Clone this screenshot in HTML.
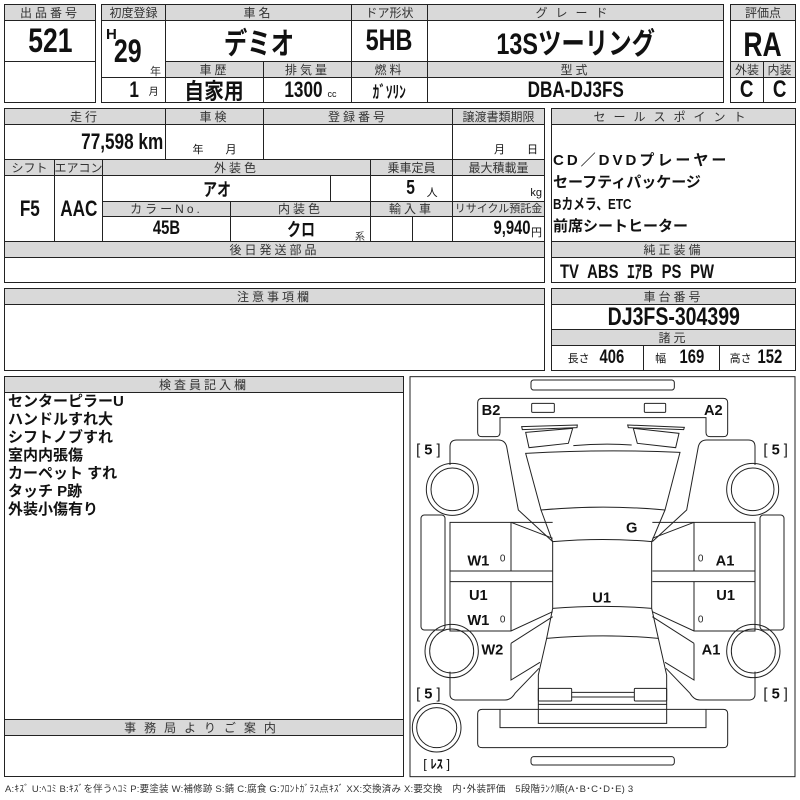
<!DOCTYPE html>
<html><head><meta charset="utf-8">
<style>
*{margin:0;padding:0;box-sizing:border-box}
body{width:800px;height:800px;background:#fff;position:relative;overflow:hidden;font-family:"Liberation Sans","Noto Sans CJK JP",sans-serif;color:#111}
.c{position:absolute;border:1px solid #222;display:flex;align-items:center;justify-content:center;white-space:nowrap;background:#fff}
.h{background:#d9d9d9;font-size:12px;letter-spacing:3px;color:#333;line-height:1}
.b{font-weight:bold}
.n{display:inline-block;transform:scaleX(0.78);font-weight:bold}
.s{font-size:10px;position:absolute;color:#333}
</style></head><body>

<!-- Block 1 -->
<div class="c h" style="left:4px;top:4px;width:92px;height:17px">出品番号</div>
<div class="c" style="left:4px;top:20px;width:92px;height:42px;font-size:34px"><span class="n">521</span></div>
<div class="c" style="left:4px;top:61px;width:92px;height:42px"></div>

<div class="c h" style="left:101px;top:4px;width:65px;height:17px;letter-spacing:0">初度登録</div>
<div class="c" style="left:101px;top:20px;width:65px;height:58px"></div>
<div style="position:absolute;left:106px;top:26px;font-size:15px;font-weight:bold">H</div>
<div style="position:absolute;left:110px;top:33px;font-size:32px"><span class="n">29</span></div>
<div class="s" style="left:150px;top:63px;font-size:11px">年</div>
<div class="c" style="left:101px;top:77px;width:65px;height:26px;font-size:22px"><span class="n" style="margin-left:20px">1</span><span style="font-size:10px;margin-left:8px">月</span></div>

<div class="c h" style="left:165px;top:4px;width:187px;height:17px">車名</div>
<div class="c" style="left:165px;top:20px;width:187px;height:42px;font-size:30px"><span class="n">デミオ</span></div>
<div class="c h" style="left:351px;top:4px;width:77px;height:17px;letter-spacing:0">ドア形状</div>
<div class="c" style="left:351px;top:20px;width:77px;height:42px;font-size:30px"><span class="n">5HB</span></div>
<div class="c h" style="left:427px;top:4px;width:297px;height:17px;letter-spacing:8px">グレード</div>
<div class="c" style="left:427px;top:20px;width:297px;height:42px;font-size:30px"><span class="n">13Sツーリング</span></div>

<div class="c h" style="left:165px;top:61px;width:99px;height:17px">車歴</div>
<div class="c" style="left:165px;top:77px;width:99px;height:26px;font-size:22px"><span class="n" style="transform:scaleX(0.9)">自家用</span></div>
<div class="c h" style="left:263px;top:61px;width:89px;height:17px">排気量</div>
<div class="c" style="left:263px;top:77px;width:89px;height:26px;font-size:22px"><span class="n">1300</span><span style="font-size:9px;margin-top:8px">cc</span></div>
<div class="c h" style="left:351px;top:61px;width:77px;height:17px">燃料</div>
<div class="c" style="left:351px;top:77px;width:77px;height:26px;font-size:17px"><span class="n">ｶﾞｿﾘﾝ</span></div>
<div class="c h" style="left:427px;top:61px;width:297px;height:17px">型式</div>
<div class="c" style="left:427px;top:77px;width:297px;height:26px;font-size:22px"><span class="n">DBA-DJ3FS</span></div>

<div class="c h" style="left:730px;top:4px;width:66px;height:17px;letter-spacing:0">評価点</div>
<div class="c" style="left:730px;top:20px;width:66px;height:42px;font-size:34px;padding-top:8px"><span class="n">RA</span></div>
<div class="c h" style="left:730px;top:61px;width:34px;height:17px;letter-spacing:0">外装</div>
<div class="c h" style="left:763px;top:61px;width:33px;height:17px;letter-spacing:0">内装</div>
<div class="c" style="left:730px;top:77px;width:34px;height:26px;font-size:24px"><span class="n">C</span></div>
<div class="c" style="left:763px;top:77px;width:33px;height:26px;font-size:24px"><span class="n">C</span></div>

<!-- Block 2 -->
<div class="c h" style="left:4px;top:108px;width:162px;height:17px">走行</div>
<div class="c" style="left:4px;top:124px;width:162px;height:36px;font-size:22px;justify-content:flex-end;padding-right:2px"><span class="n" style="transform-origin:right">77,598 km</span></div>
<div class="c h" style="left:165px;top:108px;width:99px;height:17px">車検</div>
<div class="c" style="left:165px;top:124px;width:99px;height:36px;font-size:11px;align-items:flex-end;padding-bottom:2px">年　　月</div>
<div class="c h" style="left:263px;top:108px;width:190px;height:17px">登録番号</div>
<div class="c" style="left:263px;top:124px;width:190px;height:36px"></div>
<div class="c h" style="left:452px;top:108px;width:93px;height:17px;letter-spacing:0">譲渡書類期限</div>
<div class="c" style="left:452px;top:124px;width:93px;height:36px;font-size:11px;align-items:flex-end;padding-bottom:2px;justify-content:flex-end;padding-right:6px">月　　日</div>

<div class="c h" style="left:4px;top:159px;width:51px;height:17px;letter-spacing:0">シフト</div>
<div class="c h" style="left:54px;top:159px;width:49px;height:17px;letter-spacing:0">エアコン</div>
<div class="c" style="left:4px;top:175px;width:51px;height:67px;font-size:22px"><span class="n">F5</span></div>
<div class="c" style="left:54px;top:175px;width:49px;height:67px;font-size:22px"><span class="n">AAC</span></div>
<div class="c h" style="left:102px;top:159px;width:269px;height:17px">外装色</div>
<div class="c" style="left:102px;top:175px;width:229px;height:27px;font-size:18px"><span class="n">アオ</span></div>
<div class="c" style="left:330px;top:175px;width:41px;height:27px"></div>
<div class="c h" style="left:370px;top:159px;width:83px;height:17px;letter-spacing:0">乗車定員</div>
<div class="c" style="left:370px;top:175px;width:83px;height:27px;font-size:20px"><span class="n" style="margin-left:20px">5</span><span style="font-size:11px;margin-left:10px;margin-top:6px">人</span></div>
<div class="c h" style="left:452px;top:159px;width:93px;height:17px;letter-spacing:0">最大積載量</div>
<div class="c" style="left:452px;top:175px;width:93px;height:27px;font-size:11px;justify-content:flex-end;align-items:flex-end;padding:0 2px 2px 0">kg</div>

<div class="c h" style="left:102px;top:201px;width:129px;height:16px">カラーNo.</div>
<div class="c" style="left:102px;top:216px;width:129px;height:26px;font-size:19px"><span class="n">45B</span></div>
<div class="c h" style="left:230px;top:201px;width:141px;height:16px">内装色</div>
<div class="c" style="left:230px;top:216px;width:141px;height:26px;font-size:18px"><span class="n">クロ</span></div>
<div class="s" style="left:355px;top:228px">系</div>
<div class="c h" style="left:370px;top:201px;width:83px;height:16px">輸入車</div>
<div class="c" style="left:370px;top:216px;width:43px;height:26px"></div>
<div class="c" style="left:412px;top:216px;width:41px;height:26px"></div>
<div class="c h" style="left:452px;top:201px;width:93px;height:16px;letter-spacing:0;font-size:11px">リサイクル預託金</div>
<div class="c" style="left:452px;top:216px;width:93px;height:26px;font-size:19px;justify-content:flex-end;padding-right:2px"><span class="n" style="transform-origin:right">9,940</span><span style="font-size:11px;margin-top:6px">円</span></div>

<div class="c h" style="left:4px;top:241px;width:541px;height:17px">後日発送部品</div>
<div class="c" style="left:4px;top:257px;width:541px;height:26px"></div>

<div class="c h" style="left:551px;top:108px;width:245px;height:17px;letter-spacing:8px">セールスポイント</div>
<div class="c" style="left:551px;top:124px;width:245px;height:118px"></div>
<div style="position:absolute;left:553px;top:150px;font-size:15px;font-weight:bold;line-height:22px">
<div style="letter-spacing:3px">CD／DVDプレーヤー</div><div>セーフティパッケージ</div><div><span class="n" style="transform-origin:left">Bカメラ、ETC</span></div><div>前席シートヒーター</div></div>
<div class="c h" style="left:551px;top:241px;width:245px;height:17px">純正装備</div>
<div class="c" style="left:551px;top:257px;width:245px;height:26px;font-size:19px;justify-content:flex-start;padding-left:8px"><span class="n" style="transform-origin:left;word-spacing:6px">TV ABS ｴｱB PS PW</span></div>

<!-- Block 3 -->
<div class="c h" style="left:4px;top:288px;width:541px;height:17px">注意事項欄</div>
<div class="c" style="left:4px;top:304px;width:541px;height:67px"></div>
<div class="c h" style="left:551px;top:288px;width:245px;height:17px">車台番号</div>
<div class="c" style="left:551px;top:304px;width:245px;height:26px;font-size:25px"><span class="n">DJ3FS-304399</span></div>
<div class="c h" style="left:551px;top:329px;width:245px;height:17px">諸元</div>
<div class="c" style="left:551px;top:345px;width:93px;height:26px;font-size:19px"><span style="font-size:11px">長さ</span><span class="n" style="margin-left:6px">406</span></div>
<div class="c" style="left:643px;top:345px;width:77px;height:26px;font-size:19px"><span style="font-size:11px">幅</span><span class="n" style="margin-left:10px">169</span></div>
<div class="c" style="left:719px;top:345px;width:77px;height:26px;font-size:19px"><span style="font-size:11px">高さ</span><span class="n" style="margin-left:2px">152</span></div>

<!-- Block 4 -->
<div class="c h" style="left:4px;top:376px;width:400px;height:17px">検査員記入欄</div>
<div class="c" style="left:4px;top:392px;width:400px;height:328px"></div>
<div style="position:absolute;left:8px;top:393px;font-size:15px;font-weight:bold;line-height:18px">
<div>センターピラーU</div><div>ハンドルすれ大</div><div>シフトノブすれ</div><div>室内内張傷</div><div>カーペット すれ</div><div>タッチ P跡</div><div>外装小傷有り</div></div>
<div class="c h" style="left:4px;top:719px;width:400px;height:17px;letter-spacing:8px">事務局よりご案内</div>
<div class="c" style="left:4px;top:735px;width:400px;height:42px"></div>

<svg style="position:absolute;left:405px;top:375px" width="395" height="425" viewBox="0 0 1185 1275">
<g fill="none" stroke="#222" stroke-width="3">
<rect x="15" y="5" width="1155" height="1200"/>
<rect x="378" y="15" width="430" height="30" rx="8"/>
<path d="M232,70 H955 Q968,70 968,83 V172 Q968,185 955,185 H916 Q903,185 903,172 V128 H285 V172 Q285,185 272,185 H231 Q218,185 218,172 V83 Q218,70 232,70 Z"/>
<rect x="380" y="85" width="68" height="27" rx="3"/>
<rect x="718" y="85" width="64" height="27" rx="3"/>
<path d="M350,155 L517,150 L516,158 L352,164 Z"/>
<path d="M362,172 L503,160 L490,205 L372,218 Z"/>
<path d="M668,150 L838,157 L836,164 L670,158 Z"/>
<path d="M685,160 L822,175 L812,218 L697,205 Z"/>
<path d="M505,212 Q595,204 680,210"/>
<path d="M362,235 Q595,222 825,232 L780,405 Q595,388 408,405 Z"/>
<path d="M408,405 L443,500 Q595,487 740,500 L780,405"/>
<path d="M443,500 V700 M740,500 V700"/>
<path d="M443,700 Q595,688 740,700"/>
<path d="M443,700 L425,790 Q595,775 760,790 L740,700"/>
<path d="M425,790 L400,900 V1045 H785 V900 L760,790"/>
<rect x="400" y="940" width="100" height="38" rx="3"/>
<rect x="688" y="940" width="97" height="38" rx="3"/>
<path d="M500,952 H688 M500,966 H688"/>
<path d="M400,988 H785"/>
<path d="M232,1003 H955 Q968,1003 968,1016 V1105 Q968,1118 955,1118 H232 Q218,1118 218,1105 V1016 Q218,1003 232,1003 Z"/>
<path d="M285,1003 V1058 H903 V1003"/>
<rect x="378" y="1145" width="430" height="25" rx="8"/>
<circle cx="95" cy="1058" r="73"/><circle cx="95" cy="1058" r="60"/>
<g id="side">
<path d="M135,270 V215 Q135,195 155,195 H280 Q300,195 305,215 L340,405 L443,500"/>
<path d="M318,442 L443,490"/>
<circle cx="142" cy="343" r="78"/><circle cx="142" cy="343" r="64"/>
<rect x="48" y="420" width="72" height="345" rx="10"/>
<path d="M443,442 H135 V588 H443 M318,442 V588"/>
<path d="M135,588 V620 H443 M135,620 V768 H318 L443,710 M318,620 V768"/>
<path d="M318,805 L443,725 M318,805 V915 L405,862"/>
<circle cx="140" cy="828" r="80"/><circle cx="140" cy="828" r="66"/>
<path d="M135,890 V958 Q135,975 155,975 H300 Q318,975 330,955 L402,880"/>
</g>
<use href="#side" transform="translate(1185,0) scale(-1,1)"/>
</g>
<g font-family="Liberation Sans, sans-serif" font-weight="bold" font-size="44" fill="#111" text-anchor="middle">
<text x="258" y="120">B2</text><text x="925" y="120">A2</text>
<text x="680" y="472">G</text>
<text x="220" y="572">W1</text><text x="220" y="675">U1</text><text x="220" y="750">W1</text>
<text x="262" y="838">W2</text><text x="590" y="682">U1</text>
<text x="960" y="572">A1</text><text x="962" y="675">U1</text><text x="918" y="838">A1</text>
</g>
<g font-family="Liberation Sans, sans-serif" font-size="30" fill="#222" text-anchor="middle">
<text x="293" y="560">0</text><text x="293" y="742">0</text><text x="887" y="560">0</text><text x="887" y="742">0</text>
</g>
<g font-family="Liberation Sans, Noto Sans CJK JP, sans-serif" font-size="44" fill="#111" text-anchor="middle">
<text x="70" y="238">[ <tspan font-weight="bold">5</tspan> ]</text>
<text x="1112" y="238">[ <tspan font-weight="bold">5</tspan> ]</text>
<text x="70" y="970">[ <tspan font-weight="bold">5</tspan> ]</text>
<text x="1112" y="970">[ <tspan font-weight="bold">5</tspan> ]</text>
<text x="95" y="1180" font-size="38">[ <tspan font-weight="bold">ﾚｽ</tspan> ]</text>
</g>
</svg>

<div style="position:absolute;left:5px;top:781px;font-size:9.5px;color:#333;white-space:nowrap;letter-spacing:0.2px">A:ｷｽﾞ U:ﾍｺﾐ B:ｷｽﾞを伴うﾍｺﾐ P:要塗装 W:補修跡 S:錆 C:腐食 G:ﾌﾛﾝﾄｶﾞﾗｽ点ｷｽﾞ XX:交換済み X:要交換　内･外装評価　5段階ﾗﾝｸ順(A･B･C･D･E) 3</div>
</body></html>
